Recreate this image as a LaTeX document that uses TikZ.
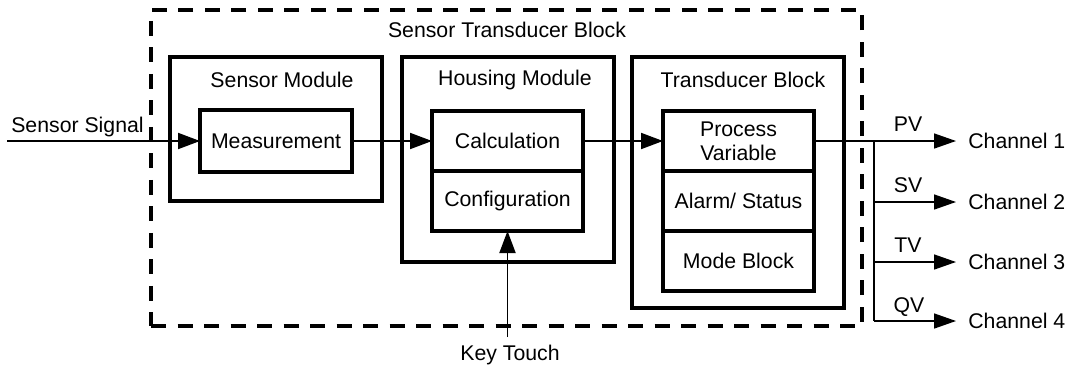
\documentclass[tikz,border=0pt]{standalone}
\usepackage{fontspec}
\setmainfont{Liberation Sans}
\usetikzlibrary{arrows.meta,positioning}

\begin{document}
\begin{tikzpicture}[
	font=\fontsize{12.1}{13.7}\selectfont,
	module/.style={rectangle, draw, minimum width=4.24cm, line width=1.8pt, outer sep=0pt},
	cell/.style={rectangle, draw, minimum width=3.02cm, minimum height=1.2cm, line width=1.8pt, outer sep=0pt, text centered, align=center},
	title/.style={anchor=base, inner sep=0pt},
	flow/.style={line width=1.1pt, -{Triangle[length=0.44cm, width=0.32cm]}},
	chanline/.style={line width=0.85pt},
	chanarrow/.style={chanline, -{Triangle[length=0.44cm, width=0.3cm]}},
	chan/.style={anchor=west, inner xsep=0.24cm, inner ysep=0pt}
	]
	
	\useasboundingbox (0,0) rectangle (21.4,-7.3);
	
	%Outer dashed block
	\node (sensorTB) at (10.13,-3.36) [rectangle, draw, minimum width=14.22cm, minimum height=6.32cm, 
	line width=1.8pt, dash pattern=on 0.3cm off 0.23cm]{};
	\node (sensorTBTitle) at (10.14,-0.74) [title]{Sensor Transducer Block};
	
	%Sensor module
	\node (sensorMod) at (5.52,-2.58) [module, minimum height=2.88cm]{};
	\node (sensorModTitle) at (5.64,-1.74) [title]{Sensor Module};
	\node (measure) at (5.52,-2.82) [cell, minimum width=3.04cm, minimum height=1.24cm]{Measurement};
	
	%Housing module
	\node (housingMod) at (10.16,-3.19) [module, minimum height=4.1cm]{};
	\node (housingModTitle) at (10.3,-1.7) [title]{Housing Module};
	\node (calc) at (10.15,-2.82) [cell]{Calculation};
	\node (config) [cell, below=0pt of calc]{Configuration};
	
	%Transducer block
	\node (transBlock) at (14.76,-3.65) [module, minimum height=5.02cm]{};
	\node (transBlockTitle) at (14.86,-1.74) [title]{Transducer Block};
	\node (pv) at (14.77,-2.82) [cell]{Process\\Variable};
	\node (alarm) [cell, below=0pt of pv]{Alarm/ Status};
	\node (mode) [cell, below=0pt of alarm]{Mode Block};
	
	%Inputs
	\coordinate (sigIn) at (0.14,-2.82);
	\node (sigLabel) at (1.55,-2.64) [title]{Sensor Signal};
	\coordinate (keyIn) at (10.15,-6.74);
	\node (keyLabel) at (10.2,-7.2) [title]{Key Touch};
	
	\draw[flow] (sigIn) -- (measure.west);
	\draw[flow] (measure.east) -- (calc.west);
	\draw[flow] (calc.east) -- (pv.west);
	\draw[flow] (keyIn) -- (config.south);
	
	%Output channels
	\node (ch1) at (19.12,-2.82) [chan]{Channel 1};
	\node (ch2) at (19.12,-4.04) [chan]{Channel 2};
	\node (ch3) at (19.12,-5.24) [chan]{Channel 3};
	\node (ch4) at (19.12,-6.42) [chan]{Channel 4};
	\coordinate (branch) at (17.48,-2.82);
	
	\draw[chanarrow] (pv.east) -- (ch1.west);
	\draw[chanline] (branch) -- (branch |- ch4.west);
	\draw[chanarrow] (branch |- ch2.west) -- (ch2.west);
	\draw[chanarrow] (branch |- ch3.west) -- (ch3.west);
	\draw[chanarrow] (branch |- ch4.west) -- (ch4.west);
	
	\node (pvLabel) at (18.16,-2.62) [title]{PV};
	\node (svLabel) at (18.16,-3.84) [title]{SV};
	\node (tvLabel) at (18.16,-5.04) [title]{TV};
	\node (qvLabel) at (18.18,-6.24) [title]{QV};
	
\end{tikzpicture}
\end{document}
